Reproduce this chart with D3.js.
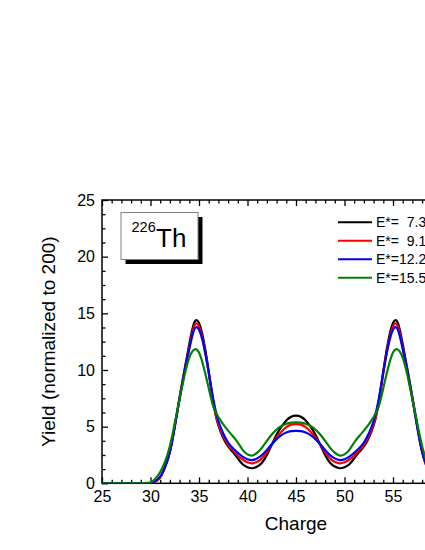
<!DOCTYPE html>
<html>
<head>
<meta charset="utf-8">
<script src="https://cdn.jsdelivr.net/npm/d3@7"></script>
<style>
  body { margin: 0; background: #fff; }
  text { font-family: "Liberation Sans", Arial, sans-serif; }
</style>
</head>
<body>
<script>
// charge number (Z) of the fragment
var charges = [25, 26, 27, 28, 29, 29.5, 30, 30.5, 31, 31.5, 32, 32.5, 33, 33.5, 34, 34.5, 35, 35.5, 36, 36.5,
  37, 37.5, 38, 38.5, 39, 39.5, 40, 40.5, 41, 41.5, 42, 42.5, 43, 43.5, 44, 44.5, 45, 45.5, 46, 46.5,
  47, 47.5, 48, 48.5, 49, 49.5, 50, 50.5, 51, 51.5, 52, 52.5, 53, 53.5, 54, 54.5, 55, 55.5, 56, 56.5,
  57, 57.5, 58, 58.5, 59, 59.5, 60, 60.5, 61, 62, 63, 64, 65];

var yieldE73 = [0, 0, 0, 0, 0, 0, 0.02, 0.18, 0.55, 1.45, 2.8, 5.1, 7.6, 10.0, 12.3, 14.15, 14.15, 12.5, 9.9, 7.0,
  5.1, 4.0, 3.25, 2.75, 2.2, 1.68, 1.42, 1.33, 1.48, 1.82, 2.5, 3.4, 4.3, 5.0, 5.55, 5.88, 5.97, 5.88, 5.55, 5.0,
  4.3, 3.4, 2.5, 1.82, 1.48, 1.33, 1.42, 1.68, 2.2, 2.75, 3.25, 4.0, 5.1, 7.0, 9.9, 12.5, 14.15, 14.15, 12.3, 10.0,
  7.6, 5.1, 2.8, 1.45, 0.55, 0.18, 0.02, 0, 0, 0, 0, 0, 0];

var yieldE91 = [0, 0, 0, 0, 0, 0, 0.02, 0.16, 0.52, 1.4, 2.75, 5.0, 7.5, 9.85, 12.0, 13.85, 13.85, 12.2, 9.75, 7.0,
  5.2, 4.15, 3.4, 2.9, 2.45, 2.1, 1.85, 1.76, 1.9, 2.2, 2.75, 3.4, 4.05, 4.55, 4.95, 5.18, 5.23, 5.18, 4.95, 4.55,
  4.05, 3.4, 2.75, 2.2, 1.9, 1.76, 1.85, 2.1, 2.45, 2.9, 3.4, 4.15, 5.2, 7.0, 9.75, 12.2, 13.85, 13.85, 12.0, 9.85,
  7.5, 5.0, 2.75, 1.4, 0.52, 0.16, 0.02, 0, 0, 0, 0, 0, 0];

var yieldE122 = [0, 0, 0, 0, 0, 0.01, 0.03, 0.2, 0.58, 1.45, 2.8, 4.95, 7.45, 9.8, 11.85, 13.55, 13.55, 12.1, 9.8, 7.3,
  5.5, 4.4, 3.6, 3.1, 2.7, 2.35, 2.12, 2.05, 2.2, 2.5, 2.95, 3.45, 3.9, 4.25, 4.48, 4.6, 4.63, 4.6, 4.48, 4.25,
  3.9, 3.45, 2.95, 2.5, 2.2, 2.05, 2.12, 2.35, 2.7, 3.1, 3.6, 4.4, 5.5, 7.3, 9.8, 12.1, 13.55, 13.55, 11.85, 9.8,
  7.45, 4.95, 2.8, 1.45, 0.58, 0.2, 0.03, 0.01, 0, 0, 0, 0, 0];

var yieldE155 = [0, 0, 0, 0, 0, 0.03, 0.1, 0.4, 1.0, 1.9, 3.3, 5.3, 7.4, 9.5, 11.1, 11.8, 11.55, 10.2, 8.4, 6.7,
  5.85, 5.2, 4.65, 4.15, 3.6, 2.95, 2.55, 2.45, 2.7, 3.15, 3.75, 4.3, 4.75, 5.05, 5.25, 5.35, 5.38, 5.35, 5.25, 5.05,
  4.75, 4.3, 3.75, 3.15, 2.7, 2.45, 2.55, 2.95, 3.6, 4.15, 4.65, 5.2, 5.85, 6.7, 8.4, 10.2, 11.55, 11.8, 11.1, 9.5,
  7.4, 5.3, 3.3, 1.9, 1.0, 0.4, 0.1, 0.03, 0, 0, 0, 0, 0];

var seriesNames = ['E*=  7.3 MeV', 'E*=  9.1 MeV', 'E*=12.2 MeV', 'E*=15.5 MeV'];
var seriesColors = ['#000000', '#ff0000', '#0000ff', '#008000'];
var seriesValues = [yieldE73, yieldE91, yieldE122, yieldE155];

var xMajorTicks = [25, 30, 35, 40, 45, 50, 55, 60, 65];
var yMajorTicks = [0, 5, 10, 15, 20, 25];

var svg = d3.select('body').append('svg')
  .attr('width', 425)
  .attr('height', 550)

var margin = { top: 200, left: 102 },
  width = 388,
  height = 283.3,
  g = svg.append('g').attr('transform', 'translate(' + margin.left + ',' + margin.top + ')');

var x = d3.scaleLinear().domain([25, 65]).range([0, width]);
var y = d3.scaleLinear().domain([0, 25]).range([height, 0]);

// minor ticks: 1 unit on x, 1.25 on y
var xMinor = d3.range(25, 65.01, 1).filter(function (d) { return d % 5 != 0; });
var yMinor = d3.range(0, 25.01, 1.25).filter(function (d) { return d % 5 != 0; });

function styleAxis(sel) {
  sel.select('.domain').remove();
  sel.selectAll('line').attr('stroke', '#000').attr('stroke-width', 1.3);
  sel.selectAll('text').attr('font-size', 16).attr('fill', '#000')
    .attr('font-family', '"Liberation Sans", Arial, sans-serif');
}

// bottom (labels past the window edge are left out)
g.append('g').attr('transform', 'translate(0,' + height + ')')
  .call(d3.axisBottom(x).tickValues(xMajorTicks).tickSize(-6).tickPadding(7)
    .tickFormat(function (d) { return d <= 55 ? d : ''; }))
  .call(styleAxis);
g.append('g').attr('transform', 'translate(0,' + height + ')')
  .call(d3.axisBottom(x).tickValues(xMinor).tickSize(-3.5).tickFormat(''))
  .call(styleAxis);
// top
g.append('g')
  .call(d3.axisTop(x).tickValues(xMajorTicks).tickSize(-6).tickFormat(''))
  .call(styleAxis);
g.append('g')
  .call(d3.axisTop(x).tickValues(xMinor).tickSize(-3.5).tickFormat(''))
  .call(styleAxis);
// left
g.append('g')
  .call(d3.axisLeft(y).tickValues(yMajorTicks).tickSize(-6).tickPadding(7).tickFormat(d3.format('d')))
  .call(styleAxis);
g.append('g')
  .call(d3.axisLeft(y).tickValues(yMinor).tickSize(-3.5).tickFormat(''))
  .call(styleAxis);
// right
g.append('g').attr('transform', 'translate(' + width + ',0)')
  .call(d3.axisRight(y).tickValues(yMajorTicks).tickSize(-6).tickFormat(''))
  .call(styleAxis);

g.append('rect')
  .attr('width', width)
  .attr('height', height)
  .attr('fill', 'none')
  .attr('stroke', '#000')
  .attr('stroke-width', 1.5);

g.append('clipPath').attr('id', 'plotclip')
  .append('rect').attr('x', -2).attr('y', -2).attr('width', width + 4).attr('height', height + 2);

var line = d3.line()
  .x(function (d) { return x(d[0]); })
  .y(function (d) { return y(d[1]); })
  .curve(d3.curveNatural);

g.append('g')
  .attr('clip-path', 'url(#plotclip)')
  .selectAll('path')
  .data(seriesValues)
  .enter().append('path')
  .attr('fill', 'none')
  .attr('stroke', function (d, i) { return seriesColors[i]; })
  .attr('stroke-width', 2.2)
  .attr('stroke-linejoin', 'round')
  .attr('d', function (vals) {
    return line(charges.map(function (c, i) { return [c, vals[i]]; }));
  });

// nucleus label box
var box = g.append('g').attr('transform', 'translate(19,12.5)');
box.append('rect').attr('x', 4.5).attr('y', 4.5).attr('width', 77).attr('height', 47).attr('fill', '#000');
box.append('rect').attr('width', 77).attr('height', 47).attr('fill', '#fff')
  .attr('stroke', '#808080').attr('stroke-width', 1);
box.append('text').attr('x', 10.5).attr('y', 19.8).attr('font-size', 14.5).text('226');
box.append('text').attr('x', 35).attr('y', 34.2).attr('font-size', 26).text('Th');

// legend
var legend = g.append('g')
  .attr('transform', 'translate(236,22.3)')
  .selectAll('g')
  .data(seriesNames)
  .enter().append('g')
  .attr('transform', function (d, i) { return 'translate(0,' + i * 18.5 + ')'; });

legend.append('line')
  .attr('x1', 0).attr('x2', 34)
  .attr('stroke', function (d, i) { return seriesColors[i]; })
  .attr('stroke-width', 2);

legend.append('text')
  .attr('x', 38)
  .attr('dy', '0.36em')
  .attr('font-size', 14)
  .style('white-space', 'pre')
  .text(function (d) { return d; });

// axis titles
svg.append('text')
  .attr('x', margin.left + x(45))
  .attr('y', 530)
  .attr('text-anchor', 'middle')
  .attr('font-size', 19)
  .text('Charge');

svg.append('text')
  .attr('transform', 'translate(55,' + (margin.top + height / 2) + ') rotate(-90)')
  .attr('text-anchor', 'middle')
  .attr('font-size', 19)
  .text('Yield (normalized to 200)');
</script>
</body>
</html>
